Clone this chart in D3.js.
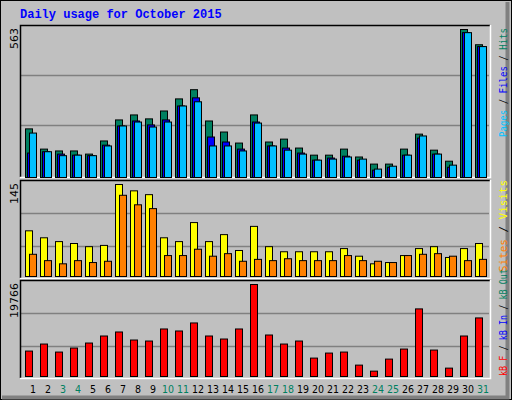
<!DOCTYPE html>
<html><head><meta charset="utf-8">
<script src="https://cdn.jsdelivr.net/npm/d3@7"></script>
<style>body{margin:0;background:#fff}</style></head><body>
<script>
const days = d3.range(1,32);
const weekends = [3,4,10,11,17,18,24,25,31];
const hits  = [185,108,101,101,89,139,219,238,223,253,299,334,215,173,131,238,135,146,112,85,85,108,78,51,51,108,165,104,62,563,505];
const files = [93,98,89,85,83,123,196,215,200,219,272,303,154,135,108,211,120,112,93,66,74,81,66,28,39,85,150,89,39,551,498];
const pages = [169,98,83,85,83,120,196,211,192,211,272,288,120,120,101,207,120,104,89,66,70,78,70,32,43,85,158,89,47,551,498];
const visits= [72,61,55,52,47,49,145,135,129,61,55,85,55,66,41,79,47,39,39,39,39,44,32,20,22,33,44,47,30,44,52];
const sites = [35,25,20,25,22,24,128,113,107,33,33,43,32,36,24,27,25,28,25,25,25,33,25,24,22,33,35,36,32,25,27];
const kbytes= [5464,6974,5249,6112,7190,8700,9563,7837,7621,10210,9778,11504,8700,8053,10210,19766,8916,6974,7621,3955,5033,5249,2445,1150,3739,5896,14524,5680,1798,8700,12583];
const maxLabels = ["563","145","19766"];

const svg = d3.select("body").append("svg").attr("width",512).attr("height",400);
svg.append("rect").attr("x",0).attr("y",0).attr("width",512).attr("height",400).attr("fill","#c0c0c0");
svg.append("rect").attr("x",0.5).attr("y",0.5).attr("width",511).attr("height",399).attr("fill","none").attr("stroke","#000");
svg.append("path").attr("d","M507.5,2V397.5H2").attr("fill","none").attr("stroke","#808080").attr("stroke-width",4);
svg.append("text").attr("x",20).attr("y",18).text("Daily usage for October 2015")
  .attr("font-family","'Liberation Mono',monospace").attr("font-weight","bold").attr("font-size",12).attr("fill","#0000ff");

const x = d3.scaleLinear().domain([1,31]).range([25,475]);
const panels = [
  {top:25,bottom:177,max:563,h:148},
  {top:180,bottom:276,max:145,h:92},
  {top:280,bottom:376,max:19766,h:92}
];
panels.forEach((p,i)=>{
  const bot = i===0?177:(i===1?278:378);
  svg.append("rect").attr("x",20).attr("y",p.top).attr("width",470).attr("height",bot-p.top).attr("fill","#c0c0c0");
  [1/3,2/3].forEach(f=>{
    const yy = Math.round(bot-2 - (i===0?f*150:(f===1/3?30:63)))+0.5;
    svg.append("line").attr("x1",21).attr("x2",489).attr("y1",yy).attr("y2",yy).attr("stroke","#808080").attr("stroke-width",1.5);
  });
  svg.append("path").attr("d",`M20.5,${bot}V${p.top+0.5}H490`).attr("fill","none").attr("stroke","#000").attr("stroke-width",1.5);
  svg.append("path").attr("d",`M490.5,${p.top}V${bot+0.5}H20`).attr("fill","none").attr("stroke","#fff").attr("stroke-width",1.5);
  svg.append("text").attr("transform",`translate(18,${p.top+3}) rotate(-90)`).attr("text-anchor","end")
    .attr("font-family","'DejaVu Sans',sans-serif").attr("font-size",11).text(maxLabels[i]);
});

function bars(data, panel, off, w, color){
  const y = d3.scaleLinear().domain([0,panel.max]).range([panel.bottom, panel.bottom-panel.h]);
  svg.append("g").selectAll("rect").data(data).join("rect")
    .attr("x",(d,i)=>x(days[i])+off+0.5).attr("y",d=>y(d)+0.5)
    .attr("width",w).attr("height",d=>panel.bottom-y(d))
    .attr("fill",color).attr("stroke","#000").attr("stroke-width",1);
}
bars(hits,panels[0],0,7,"#008060");
bars(files,panels[0],2,7,"#0000ff");
bars(pages,panels[0],4,7,"#00c0ff");
bars(visits,panels[1],0,7,"#ffff00");
bars(sites,panels[1],4,7,"#ff8000");
bars(kbytes,panels[2],0,7,"#ff0000");

svg.append("g").selectAll("text").data(days).join("text")
  .attr("x",d=>x(d)+8).attr("y",393).attr("text-anchor","middle")
  .attr("font-family","'DejaVu Sans Condensed','DejaVu Sans',sans-serif").attr("font-size",10.5)
  .attr("fill",d=>weekends.includes(d)?"#008060":"#000").text(d=>d);

function sideLabel(yBottom, len, parts){
  const t = svg.append("text").attr("transform",`translate(507,${yBottom}) rotate(-90)`)
    .attr("font-family","'DejaVu Sans Mono',monospace").attr("font-size",11)
    .attr("textLength",len).attr("lengthAdjust","spacingAndGlyphs");
  parts.forEach(([s,c])=>t.append("tspan").attr("fill",c).text(s));
}
sideLabel(137,109,[["Pages","#00c0ff"],[" / ","#000"],["Files","#0000ff"],[" / ","#000"],["Hits","#008060"]]);
sideLabel(272,92,[["Sites","#ff8000"],[" / ","#000"],["Visits","#ffff00"]]);
sideLabel(376,107,[["kB F","#ff0000"],[" / ","#000"],["kB In","#0000ff"],[" / ","#000"],["kB Out","#008060"]]);
</script></body></html>
